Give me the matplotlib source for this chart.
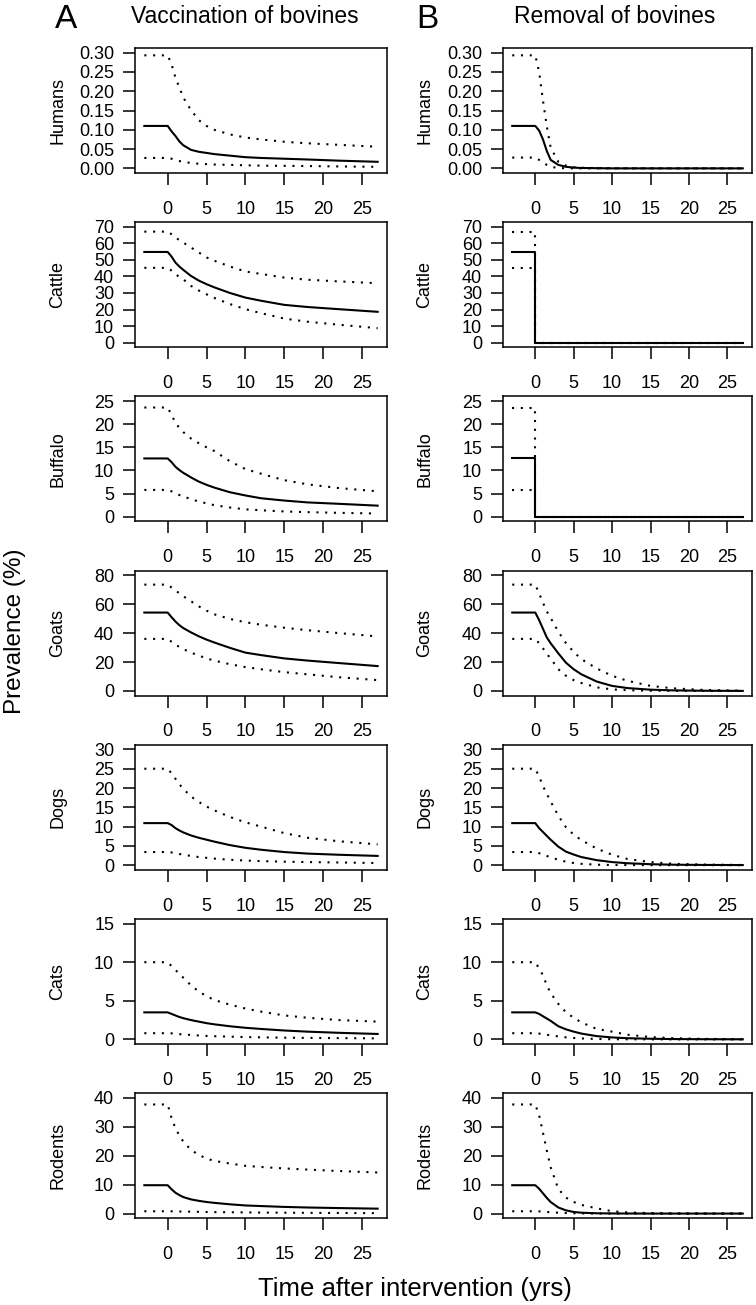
import matplotlib
matplotlib.use("Agg")
import matplotlib.pyplot as plt

plt.rcParams['font.family'] = ['Liberation Sans', 'DejaVu Sans']

# time after intervention (yrs)
T = [-3, 0, 0.5, 1, 1.5, 2, 3, 4, 5, 6, 8, 10, 12, 15, 18, 22, 27]
T_STEP = [-3, 0, 0, 27]   # bovines removed at t = 0

species = ["Humans", "Cattle", "Buffalo", "Goats", "Dogs", "Cats", "Rodents"]
y_max = [0.30, 70, 25, 80, 30, 15, 40]
y_step = [0.05, 10, 5, 20, 5, 5, 10]
x_ticks = [0, 5, 10, 15, 20, 25]

# A: vaccination of bovines
vac_median = {
    "Humans": [0.11, 0.11, 0.096, 0.084, 0.07, 0.06, 0.048, 0.043, 0.040, 0.037, 0.033, 0.029, 0.027, 0.025, 0.023, 0.020, 0.017],
    "Cattle": [54.8, 54.8, 52.0, 48.4, 46.0, 44.0, 40.3, 37.5, 35.3, 33.4, 30.0, 27.2, 25.3, 22.8, 21.5, 20.2, 18.6],
    "Buffalo": [12.6, 12.6, 11.8, 10.8, 10.1, 9.5, 8.5, 7.6, 6.9, 6.3, 5.3, 4.6, 4.0, 3.5, 3.1, 2.8, 2.4],
    "Goats": [54.2, 54.2, 51.0, 48.0, 45.5, 43.5, 40.5, 37.8, 35.5, 33.5, 29.8, 26.5, 24.8, 22.5, 21.0, 19.3, 17.2],
    "Dogs": [10.9, 10.9, 10.4, 9.6, 9.0, 8.5, 7.7, 7.1, 6.6, 6.1, 5.2, 4.5, 4.0, 3.4, 3.0, 2.7, 2.4],
    "Cats": [3.5, 3.5, 3.3, 3.1, 2.9, 2.75, 2.5, 2.3, 2.1, 1.95, 1.7, 1.5, 1.35, 1.15, 1.0, 0.85, 0.7],
    "Rodents": [9.8, 9.8, 8.4, 7.2, 6.4, 5.7, 4.9, 4.4, 4.0, 3.7, 3.2, 2.8, 2.6, 2.3, 2.1, 1.9, 1.7],
}
vac_lower = {
    "Humans": [0.027, 0.027, 0.025, 0.022, 0.019, 0.017, 0.014, 0.012, 0.011, 0.010, 0.009, 0.008, 0.007, 0.0065, 0.006, 0.005, 0.004],
    "Cattle": [45.2, 45.2, 43.5, 41.3, 39.8, 38.3, 34.3, 31.5, 29.2, 27.0, 23.3, 20.2, 17.8, 14.5, 12.6, 10.8, 8.7],
    "Buffalo": [5.8, 5.8, 5.5, 5.1, 4.7, 4.4, 3.8, 3.3, 2.9, 2.5, 2.0, 1.6, 1.4, 1.15, 1.0, 0.85, 0.7],
    "Goats": [36.0, 36.0, 34.0, 32.0, 30.5, 29.0, 26.5, 24.5, 22.5, 21.0, 18.5, 16.5, 15.0, 13.0, 11.5, 9.5, 7.5],
    "Dogs": [3.4, 3.4, 3.3, 3.1, 2.9, 2.7, 2.4, 2.1, 1.9, 1.7, 1.4, 1.2, 1.05, 0.9, 0.8, 0.7, 0.55],
    "Cats": [0.8, 0.8, 0.78, 0.72, 0.68, 0.64, 0.57, 0.5, 0.45, 0.41, 0.35, 0.3, 0.26, 0.22, 0.19, 0.16, 0.13],
    "Rodents": [0.8, 0.8, 0.78, 0.75, 0.72, 0.7, 0.65, 0.6, 0.55, 0.5, 0.45, 0.4, 0.35, 0.3, 0.25, 0.2, 0.15],
}
vac_upper = {
    "Humans": [0.293, 0.293, 0.27, 0.235, 0.21, 0.184, 0.151, 0.125, 0.11, 0.10, 0.088, 0.080, 0.075, 0.069, 0.065, 0.061, 0.056],
    "Cattle": [67.1, 67.1, 65.5, 63.5, 62.0, 60.5, 57.5, 54.5, 51.5, 49.5, 46.0, 43.0, 41.5, 39.3, 38.0, 37.0, 35.9],
    "Buffalo": [23.6, 23.6, 22.0, 20.3, 19.2, 18.3, 16.9, 15.9, 15.0, 14.2, 12.0, 10.3, 9.3, 7.9, 7.0, 6.2, 5.5],
    "Goats": [73.5, 73.5, 71.5, 69.5, 67.5, 65.5, 62.0, 58.5, 55.5, 53.0, 49.8, 47.5, 45.8, 43.7, 42.0, 40.0, 37.7],
    "Dogs": [25.0, 25.0, 23.8, 22.4, 21.0, 19.8, 17.8, 16.4, 15.2, 14.2, 12.5, 11.1, 10.0, 8.3, 7.1, 6.2, 5.4],
    "Cats": [10.0, 10.0, 9.5, 9.0, 8.5, 8.0, 7.0, 6.2, 5.6, 5.1, 4.5, 4.0, 3.6, 3.1, 2.8, 2.5, 2.3],
    "Rodents": [37.7, 37.7, 33.0, 29.5, 27.0, 24.9, 22.0, 20.3, 19.0, 18.2, 17.3, 16.5, 16.1, 15.6, 15.2, 14.7, 14.2],
}

# B: removal of bovines
rem_median = {
    "Humans": [0.11, 0.11, 0.098, 0.075, 0.045, 0.022, 0.009, 0.004, 0.002, 0.001, 0.0005, 0, 0, 0, 0, 0, 0],
    "Cattle": [54.8, 54.8, 0, 0],
    "Buffalo": [12.6, 12.6, 0, 0],
    "Goats": [54.2, 54.2, 49.0, 43.0, 37.0, 33.0, 26.0, 19.5, 15.0, 11.5, 6.5, 3.5, 2.0, 0.9, 0.4, 0.15, 0.05],
    "Dogs": [10.9, 10.9, 9.6, 8.6, 7.6, 6.6, 4.8, 3.5, 2.75, 2.1, 1.3, 0.8, 0.5, 0.25, 0.12, 0.06, 0.03],
    "Cats": [3.5, 3.5, 3.3, 3.0, 2.7, 2.4, 1.7, 1.3, 1.0, 0.75, 0.42, 0.25, 0.15, 0.08, 0.04, 0.02, 0.01],
    "Rodents": [9.8, 9.8, 8.6, 7.0, 5.4, 4.0, 2.1, 1.1, 0.55, 0.3, 0.1, 0.04, 0.02, 0, 0, 0, 0],
}
rem_lower = {
    "Humans": [0.028, 0.028, 0.022, 0.015, 0.009, 0.004, 0.001, 0.0003, 0, 0, 0, 0, 0, 0, 0, 0, 0],
    "Cattle": [45.2, 45.2, 0, 0],
    "Buffalo": [5.8, 5.8, 0, 0],
    "Goats": [36.0, 36.0, 33.0, 29.5, 25.6, 22.5, 15.0, 10.5, 7.5, 5.5, 2.5, 1.1, 0.5, 0.2, 0.1, 0, 0],
    "Dogs": [3.4, 3.4, 3.1, 2.8, 2.4, 2.0, 1.4, 0.9, 0.55, 0.35, 0.12, 0.05, 0.02, 0, 0, 0, 0],
    "Cats": [0.8, 0.8, 0.75, 0.68, 0.6, 0.52, 0.38, 0.26, 0.18, 0.12, 0.05, 0.02, 0.01, 0, 0, 0, 0],
    "Rodents": [0.8, 0.8, 0.75, 0.65, 0.55, 0.45, 0.3, 0.18, 0.1, 0.05, 0.02, 0, 0, 0, 0, 0, 0],
}
rem_upper = {
    "Humans": [0.293, 0.293, 0.25, 0.176, 0.109, 0.054, 0.017, 0.007, 0.003, 0.0015, 0.0008, 0.0004, 0.0002, 0.0001, 0, 0, 0],
    "Cattle": [67.1, 67.1, 0, 0],
    "Buffalo": [23.6, 23.6, 0, 0],
    "Goats": [73.5, 73.5, 67.5, 61.0, 55.0, 50.5, 41.0, 33.0, 27.0, 22.0, 15.5, 10.5, 7.0, 3.5, 1.8, 0.7, 0.2],
    "Dogs": [25.0, 25.0, 23.0, 20.5, 18.5, 16.5, 12.8, 9.8, 7.9, 6.5, 4.3, 2.7, 1.6, 0.8, 0.35, 0.15, 0.05],
    "Cats": [10.0, 10.0, 9.2, 8.3, 7.0, 6.0, 4.6, 3.5, 2.8, 2.2, 1.35, 1.0, 0.6, 0.3, 0.15, 0.06, 0.02],
    "Rodents": [37.7, 37.7, 34.0, 28.0, 21.8, 16.0, 8.5, 5.5, 4.0, 3.0, 1.8, 0.8, 0.4, 0.15, 0.05, 0, 0],
}

columns = [
    ("A", "Vaccination of bovines", vac_median, vac_lower, vac_upper),
    ("B", "Removal of bovines", rem_median, rem_lower, rem_upper),
]

W, H = 756, 1305
fig = plt.figure(figsize=(W / 100, H / 100), dpi=100)

col_left = [135, 503]
col_width = [252, 249]
ylab_x = [-0.306, -0.313]
row_top0, row_gap, box_h = 48, 174.2, 125

dotted = (0, (1, 3.2))

for c, (letter, title, med, lo, hi) in enumerate(columns):
    for r, sp in enumerate(species):
        top = row_top0 + r * row_gap
        ax = fig.add_axes([col_left[c] / W, 1 - (top + box_h) / H,
                           col_width[c] / W, box_h / H])
        t = T if len(med[sp]) == len(T) else T_STEP
        ax.plot(t, med[sp], color='black', lw=1.5, solid_joinstyle='round')
        ax.plot(t, lo[sp], color='black', lw=1.5, linestyle=dotted)
        ax.plot(t, hi[sp], color='black', lw=1.5, linestyle=dotted)

        ym = y_max[r]
        ax.set_xlim(-4.2, 28.2)
        ax.set_ylim(-0.04 * ym, 1.04 * ym)
        n = int(round(ym / y_step[r]))
        yt = [k * y_step[r] for k in range(n + 1)]
        ax.set_yticks(yt)
        if sp == "Humans":
            ax.set_yticklabels([f"{v:.2f}" for v in yt])
        else:
            ax.set_yticklabels([f"{v:.0f}" for v in yt])
        ax.set_xticks(x_ticks)
        ax.set_xticklabels([str(v) for v in x_ticks])

        for s in ax.spines.values():
            s.set_linewidth(1.1)
        ax.tick_params(axis='both', direction='out', length=8.5, width=1.1,
                       labelsize=13)
        ax.tick_params(axis='x', pad=11.5)
        ax.tick_params(axis='y', pad=6.5)
        ax.text(ylab_x[c], 0.5, sp, rotation=90, transform=ax.transAxes,
                ha='center', va='center', fontsize=13)

fig.text(66 / W, 1 - 28 / H, "A", fontsize=24, ha='center', va='baseline')
fig.text(245 / W, 1 - 23 / H, "Vaccination of bovines", fontsize=16.5,
         ha='center', va='baseline')
fig.text(427 / W, 1 - 28 / H, "B", fontsize=24, ha='center', va='baseline')
fig.text(615 / W, 1 - 23 / H, "Removal of bovines", fontsize=16.5,
         ha='center', va='baseline')

fig.text(15 / W, 1 - 631 / H, "Prevalence (%)", fontsize=17.5, rotation=90,
         ha='center', va='center')
fig.text(415 / W, 1 - 1296 / H, "Time after intervention (yrs)", fontsize=18.5,
         ha='center', va='baseline')

fig.savefig("out.png", dpi=100)
